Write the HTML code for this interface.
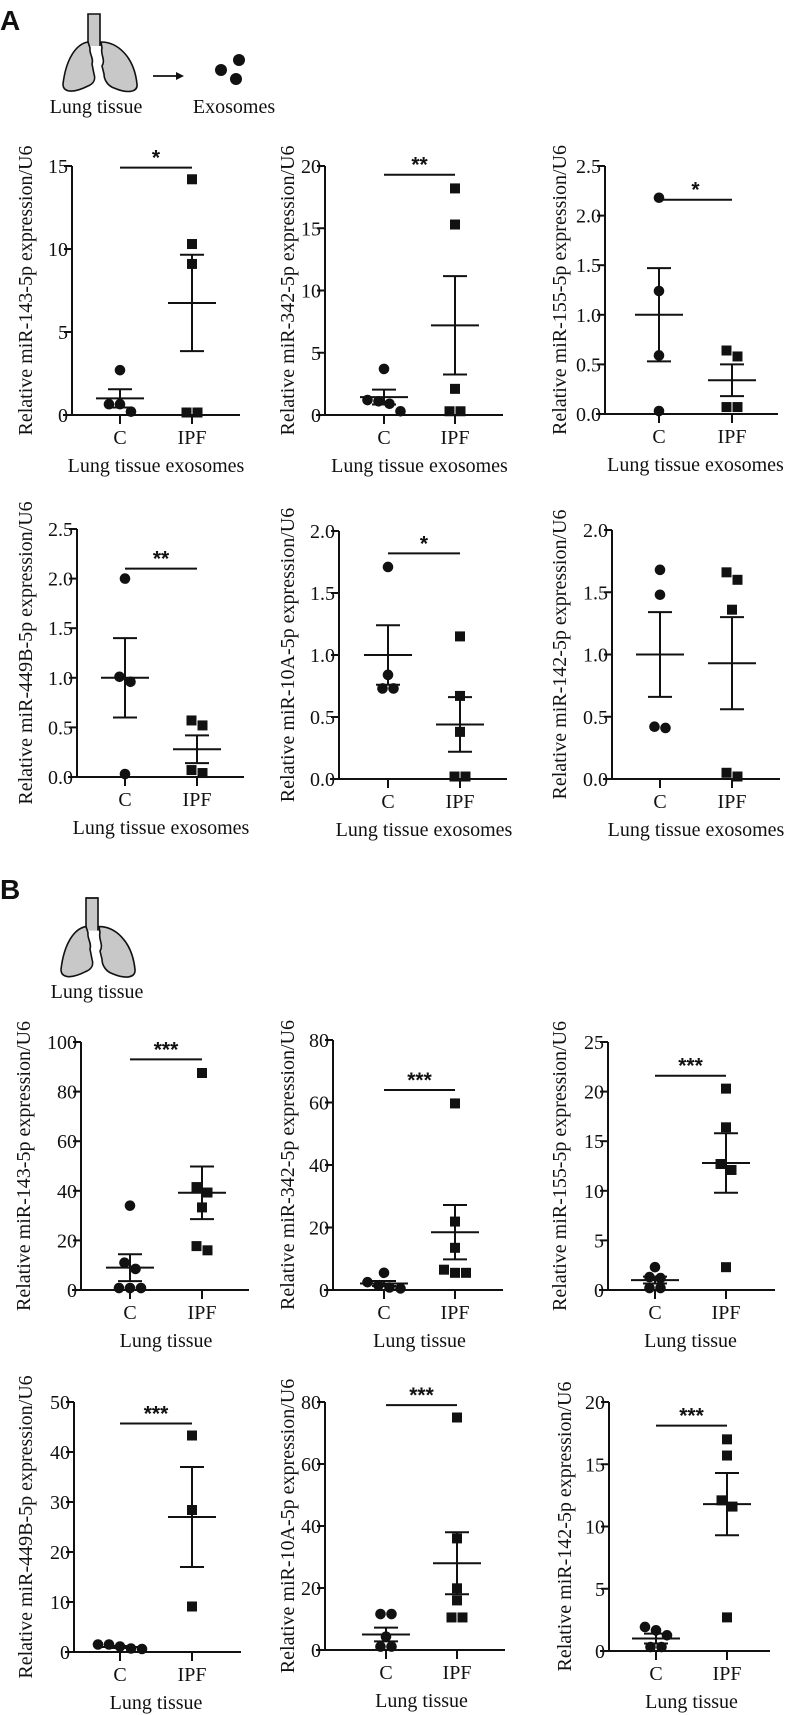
<!DOCTYPE html>
<html><head><meta charset="utf-8">
<style>
html,body{margin:0;padding:0;background:#fff;}
svg{display:block;}
svg text{font-family:"Liberation Serif",serif;fill:#111;}
</style></head>
<body>
<svg id="fig" width="793" height="1715" viewBox="0 0 793 1715" xmlns="http://www.w3.org/2000/svg">
  <text x="0" y="30" style="font-family:'Liberation Sans',sans-serif;font-weight:bold;font-size:28px">A</text>
  <g transform="translate(62,14)" fill="#c8c8c8" stroke="#111" stroke-width="1.6">
    <path d="M26,32 L26,0 L38,0 L38,32" />
    <path d="M26,28 C14,30 4,45 1,70 C1,78 10,80 26,72 C31,70 34,66 32,60 L30,50 C32,44 27,40 28,34 Z"/>
    <path d="M39,28 C55,28 72,42 75,70 C76,78 66,80 52,74 C46,72 42,66 42,60 L40,52 C44,46 38,40 40,34 Z"/>
  </g>
  <text x="96" y="113" text-anchor="middle" style="font-family:'Liberation Serif',serif;font-size:20px">Lung tissue</text>
  <g>
    <line x1="153" y1="76" x2="178" y2="76" stroke="#111" stroke-width="1.8"/>
    <polygon points="184,76 176,72 176,80" fill="#111"/>
  </g>
  <g fill="#111">
    <circle cx="221" cy="70" r="6"/><circle cx="239" cy="60" r="6"/><circle cx="236" cy="79" r="6"/>
  </g>
  <text x="234" y="113" text-anchor="middle" style="font-family:'Liberation Serif',serif;font-size:20px">Exosomes</text>

  <text x="0" y="899" style="font-family:'Liberation Sans',sans-serif;font-weight:bold;font-size:28px">B</text>
  <g transform="translate(60,898) scale(1,1.02)" fill="#c8c8c8" stroke="#111" stroke-width="1.6">
    <path d="M26,32 L26,0 L38,0 L38,32" />
    <path d="M26,28 C14,30 4,45 1,70 C1,78 10,80 26,72 C31,70 34,66 32,60 L30,50 C32,44 27,40 28,34 Z"/>
    <path d="M39,28 C55,28 72,42 75,70 C76,78 66,80 52,74 C46,72 42,66 42,60 L40,52 C44,46 38,40 40,34 Z"/>
  </g>
  <text x="97" y="998" text-anchor="middle" style="font-family:'Liberation Serif',serif;font-size:20px">Lung tissue</text>
</svg>
<script>
// ---- data ----
const titles = ["miR-143-5p","miR-342-5p","miR-155-5p","miR-449B-5p","miR-10A-5p","miR-142-5p",
                "miR-143-5p","miR-342-5p","miR-155-5p","miR-449B-5p","miR-10A-5p","miR-142-5p"];
const groupLabels = ["C","IPF"];
const yMax = [15,20,2.5,2.5,2.0,2.0,100,80,25,50,80,20];
const yStep = [5,5,0.5,0.5,0.5,0.5,20,20,5,10,20,5];
const tickDecimals = [0,0,1,1,1,1,0,0,0,0,0,0];
const cValues = [
  [2.7,0.65,0.65,0.2],
  [3.7,1.1,0.9,1.2,0.3],
  [2.18,1.24,0.59,0.03],
  [2.0,1.01,0.96,0.03],
  [1.71,0.84,0.73,0.73],
  [1.68,1.48,0.41,0.42],
  [34,11,8.5,0.8,0.8,0.8],
  [5.5,2.5,1.5,0.8,0.5],
  [2.3,1.3,1.2,0.2,0.2],
  [0.7,1.5,1.1,1.5,0.6],
  [11.6,11.6,4.3,1.1,1.1],
  [1.93,1.66,1.26,0.32,0.32]
];
const ipfValues = [
  [14.2,10.3,9.1,0.15,0.15],
  [18.2,15.3,2.1,0.3,0.3],
  [0.64,0.58,0.07,0.07],
  [0.57,0.52,0.07,0.04],
  [1.15,0.67,0.38,0.02,0.02],
  [1.66,1.6,1.36,0.02,0.05],
  [87.5,41.5,39.3,33.3,17.7,16],
  [59.7,21.9,13.5,6.5,5.5,5.5],
  [20.3,16.4,12.7,12.1,2.3],
  [43.3,28.4,9.1],
  [75,36,19.9,16,10.5,10.5],
  [17.0,15.7,12.1,11.6,2.7]
];
const cMean = [1.0,1.44,1.0,1.0,1.0,1.0,9.0,2.1,1.0,1.0,5.0,1.0];
const cSem  = [0.55,0.6,0.47,0.4,0.24,0.34,5.4,0.8,0.35,0.2,2.2,0.4];
const ipfMean = [6.75,7.2,0.34,0.28,0.44,0.93,39.2,18.5,12.8,27,28,11.8];
const ipfSem  = [2.9,3.95,0.16,0.14,0.22,0.37,10.6,8.7,3.0,10,10,2.5];
const sigText = ["*","**","*","**","*","","***","***","***","***","***","***"];
const sigValue = [14.9,19.3,2.16,2.1,1.82,0,93,64,21.6,45.7,79,18.1];
const xCaptions = ["Lung tissue exosomes","Lung tissue exosomes","Lung tissue exosomes","Lung tissue exosomes","Lung tissue exosomes","Lung tissue exosomes",
                   "Lung tissue","Lung tissue","Lung tissue","Lung tissue","Lung tissue","Lung tissue"];

// ---- layout (pixel geometry) ----
const layout = [
  {ax:72, cx:120, ix:192, end:240, top:166, y0:415},
  {ax:325,cx:384, ix:455, end:503, top:166, y0:415},
  {ax:605,cx:659, ix:732, end:778, top:166, y0:414},
  {ax:77, cx:125, ix:197, end:244, top:529, y0:777},
  {ax:339,cx:388, ix:460, end:507, top:531, y0:779},
  {ax:612,cx:660, ix:732, end:780, top:530, y0:779},
  {ax:81, cx:130, ix:202, end:249, top:1042,y0:1290},
  {ax:333,cx:384, ix:455, end:503, top:1040,y0:1290},
  {ax:608,cx:655, ix:726, end:775, top:1042,y0:1290},
  {ax:74, cx:120, ix:192, end:241, top:1402,y0:1652},
  {ax:325,cx:386, ix:457, end:505, top:1402,y0:1650},
  {ax:609,cx:656, ix:727, end:770, top:1402,y0:1651}
];
const titleX = [25,287,559,25,287,559,23,287,559,25,287,564];
const NS = "http://www.w3.org/2000/svg";
const svg = document.getElementById('fig');
const SERIF = "font-family:'Liberation Serif',serif;";
function mk(tag, attrs, parent){
  const e = document.createElementNS(NS, tag);
  for (const k in attrs) e.setAttribute(k, attrs[k]);
  (parent||svg).appendChild(e);
  return e;
}
function drawPoints(g, vals, xc, yf, shape){
  const ys = vals.map(yf);
  const order = ys.map((y,i)=>i).sort((a,b)=>ys[a]-ys[b]);
  const clusters = [];
  order.forEach(i=>{
    const last = clusters[clusters.length-1];
    if (last && Math.abs(ys[i]-ys[last[last.length-1]])<9) last.push(i); else clusters.push([i]);
  });
  clusters.forEach(cl=>{
    cl.forEach((i,k)=>{
      const x = xc + (k-(cl.length-1)/2)*11;
      let m;
      if (shape==='c') m = mk('circle',{cx:x,cy:ys[i],r:5.3,fill:'#111'},g);
      else m = mk('rect',{x:x-5,y:ys[i]-5,width:10,height:10,fill:'#111'},g);
      
      
    });
  });
}
function drawMean(g, xc, mean, sem, yf, name){
  const s = {stroke:'#111','stroke-width':2};
  const gm = mk('g',{},g);
  
  
  mk('line',Object.assign({x1:xc-24,x2:xc+24,y1:yf(mean),y2:yf(mean)},s),gm);
  mk('line',Object.assign({x1:xc,x2:xc,y1:yf(mean+sem),y2:yf(Math.max(0,mean-sem))},s),gm);
  mk('line',Object.assign({x1:xc-12,x2:xc+12,y1:yf(mean+sem),y2:yf(mean+sem)},s),gm);
  if (mean-sem>0) mk('line',Object.assign({x1:xc-12,x2:xc+12,y1:yf(mean-sem),y2:yf(mean-sem)},s),gm);
}
layout.forEach((L,p)=>{
  const g = mk('g',{});
  
  
  const yf = v => L.y0 - (v/yMax[p])*(L.y0-L.top);
  const ya = mk('line',{x1:L.ax,x2:L.ax,y1:L.top,y2:L.y0+1,stroke:'#111','stroke-width':2},g);
  
  
  for (let v=0; v<=yMax[p]+1e-9; v+=yStep[p]){
    mk('line',{x1:L.ax-8,x2:L.ax,y1:yf(v),y2:yf(v),stroke:'#111','stroke-width':2},g);
    const t = mk('text',{x:L.ax-4,y:yf(v)+7,'text-anchor':'end',style:SERIF+'font-size:20px'},g);
    
    
    t.textContent = v.toFixed(tickDecimals[p]);
  }
  const xa = mk('line',{x1:L.ax-9,x2:L.end,y1:L.y0,y2:L.y0,stroke:'#111','stroke-width':2},g);
  
  
  [L.cx,L.ix].forEach((x,k)=>{
    mk('line',{x1:x,x2:x,y1:L.y0,y2:L.y0+9,stroke:'#111','stroke-width':2},g);
    const t = mk('text',{x:x,y:L.y0+29,'text-anchor':'middle',style:SERIF+'font-size:20px'},g);
    
    
    t.textContent = groupLabels[k];
  });
  const cap = mk('text',{x:(L.cx+L.ix)/2,y:L.y0+57,'text-anchor':'middle',style:SERIF+'font-size:20px'},g);
  
  
  cap.textContent = xCaptions[p];
  const my = (L.top+L.y0)/2;
  const yt = mk('text',{x:titleX[p]+7,y:my,'text-anchor':'middle',style:SERIF+'font-size:20px',transform:'rotate(-90 '+(titleX[p]+7)+' '+my+')'},g);
  
  
  yt.textContent = 'Relative '+titles[p]+' expression/U6';
  if (sigText[p]){
    const sy = yf(sigValue[p]);
    const sl = mk('line',{x1:L.cx,x2:L.ix,y1:sy,y2:sy,stroke:'#111','stroke-width':2},g);
    
    
    const st = mk('text',{x:(L.cx+L.ix)/2,y:sy-3,'text-anchor':'middle',style:"font-family:'Liberation Sans',sans-serif;font-size:21px;font-weight:bold"},g);
    
    
    st.textContent = sigText[p];
  }
  drawPoints(g, cValues[p], L.cx, yf, 'c');
  drawPoints(g, ipfValues[p], L.ix, yf, 's');
  drawMean(g, L.cx, cMean[p], cSem[p], yf, 'control-mean-sem');
  drawMean(g, L.ix, ipfMean[p], ipfSem[p], yf, 'ipf-mean-sem');
});
</script>
</body></html>
